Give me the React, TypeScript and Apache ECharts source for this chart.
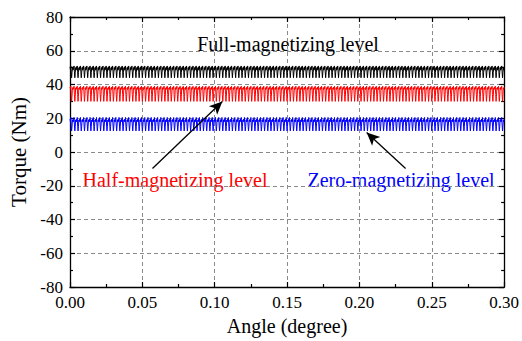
import React, { useEffect, useRef } from 'react';
import * as echarts from 'echarts';

const X_MIN = 0;
const X_MAX = 0.3;
const X_INTERVAL = 0.05;
const Y_MIN = -80;
const Y_MAX = 80;
const Y_INTERVAL = 20;
const CYCLES = 135;

// one cycle of each torque waveform (Nm)
const fullCycle = [50.5, 49, 51, 47.5, 44, 47, 50, 48.5];
const halfCycle = [38.5, 37.5, 39, 34, 30, 33, 38, 37];
const zeroCycle = [19.5, 18, 20.5, 16, 12.5, 15, 19, 18];

const seriesNames = ['Full-magnetizing level', 'Half-magnetizing level', 'Zero-magnetizing level'];
const seriesColors = ['#000000', '#ff0000', '#0000ff'];

// arrow annotations [from, to] in data coordinates
const halfArrow = [[0.057, -9.8], [0.1053, 29.9]];
const zeroArrow = [[0.2319, -9.8], [0.205, 11.5]];

function buildSeries(cycle: number[]) {
  const out: number[][] = [];
  const n = cycle.length;
  const period = (X_MAX - X_MIN) / CYCLES;
  for (let k = 0; k < CYCLES; k++) {
    for (let j = 0; j < n; j++) {
      out.push([X_MIN + (k + j / n) * period, cycle[j]]);
    }
  }
  out.push([X_MAX, cycle[0]]);
  return out;
}

const FONT = 'Liberation Serif, Times New Roman, serif';

export default function App() {
  const ref = useRef<HTMLDivElement>(null);
  useEffect(() => {
    if (!ref.current) return;
    const chart = echarts.init(ref.current, undefined, { renderer: 'svg' });
    const axisLine = { show: true, onZero: false, lineStyle: { color: '#000', width: 1.3 } };
    const tick = { show: true, inside: true, length: 5, lineStyle: { color: '#000', width: 1.2 } };
    const minor = { show: true, splitNumber: 2, length: 3, lineStyle: { color: '#000', width: 1.2 } };
    const split = { show: true, lineStyle: { type: [4, 3], color: '#8a8a8a', width: 1 } };
    const cycles = [fullCycle, halfCycle, zeroCycle];
    chart.setOption({
      animation: false,
      textStyle: { fontFamily: FONT },
      grid: { left: 70, right: 16, top: 17, bottom: 48 },
      xAxis: [
        {
          type: 'value', min: X_MIN, max: X_MAX, interval: X_INTERVAL, position: 'bottom',
          axisLine, axisTick: tick, minorTick: minor, splitLine: split,
          axisLabel: {
            formatter: (v: number) => v.toFixed(2), fontSize: 17, color: '#000', fontFamily: FONT,
            margin: 7, showMaxLabel: true, showMinLabel: true,
          },
          name: 'Angle (degree)', nameLocation: 'middle', nameGap: 29,
          nameTextStyle: { fontSize: 20, color: '#000', fontFamily: FONT },
        },
        {
          type: 'value', min: X_MIN, max: X_MAX, interval: X_INTERVAL, position: 'top',
          axisLine, axisTick: tick, minorTick: minor, splitLine: { show: false },
          axisLabel: { show: false },
        },
      ],
      yAxis: [
        {
          type: 'value', min: Y_MIN, max: Y_MAX, interval: Y_INTERVAL, position: 'left',
          axisLine, axisTick: tick, minorTick: minor, splitLine: split,
          axisLabel: { fontSize: 17, color: '#000', fontFamily: FONT, margin: 7 },
          name: 'Torque (Nm)', nameLocation: 'middle', nameGap: 40,
          nameTextStyle: { fontSize: 21, color: '#000', fontFamily: FONT },
        },
        {
          type: 'value', min: Y_MIN, max: Y_MAX, interval: Y_INTERVAL, position: 'right',
          axisLine, axisTick: tick, minorTick: minor, splitLine: { show: false },
          axisLabel: { show: false },
        },
      ],
      series: cycles.map((c, i) => ({
        name: seriesNames[i],
        type: 'line',
        data: buildSeries(c),
        showSymbol: false,
        symbol: 'none',
        lineStyle: { color: seriesColors[i], width: 1 },
        itemStyle: { color: seriesColors[i] },
        silent: true,
        markLine: i === 2 ? {
          silent: true,
          symbol: ['none', 'arrow'],
          symbolSize: [9, 13],
          label: { show: false },
          lineStyle: { color: '#000', width: 1.3, type: 'solid' },
          data: [
            [{ coord: halfArrow[0] }, { coord: halfArrow[1] }],
            [{ coord: zeroArrow[0] }, { coord: zeroArrow[1] }],
          ],
        } : undefined,
      })),
      graphic: [
        {
          type: 'text', x: 288, y: 44,
          style: { text: seriesNames[0], fill: '#000', font: `20px ${FONT}`, textAlign: 'center', textVerticalAlign: 'middle' },
        },
        {
          type: 'text', x: 175, y: 180,
          style: { text: seriesNames[1], fill: '#ff0000', font: `20px ${FONT}`, textAlign: 'center', textVerticalAlign: 'middle' },
        },
        {
          type: 'text', x: 401, y: 180,
          style: { text: seriesNames[2], fill: '#0000ff', font: `20px ${FONT}`, textAlign: 'center', textVerticalAlign: 'middle' },
        },
      ],
    });
    return () => chart.dispose();
  }, []);
  return <div ref={ref} style={{ position: 'absolute', left: 0, top: 0, width: 522, height: 341 }} />;
}
